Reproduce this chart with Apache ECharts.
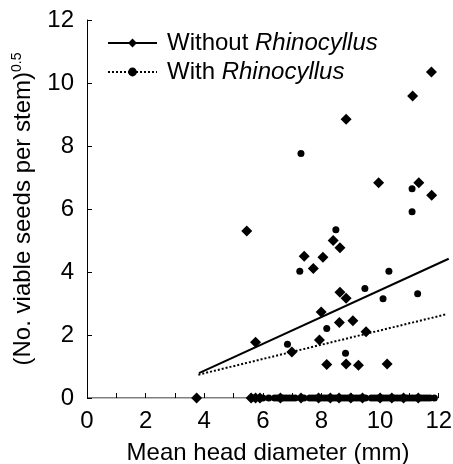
<!DOCTYPE html>
<html><head><meta charset="utf-8">
<script src="https://cdn.jsdelivr.net/npm/echarts@6/dist/echarts.min.js"></script>
<style>html,body{margin:0;padding:0;background:#fff}#c{width:453px;height:464px}</style>
</head><body><div id="c"></div>
<script>
// Without Rhinocyllus (diamonds), [head diameter, sqrt seeds]
const withoutPts = [
  [3.74,0],[5.45,5.30],[5.75,1.77],[6.99,1.46],[7.41,4.50],[7.72,4.11],[8.05,4.47],
  [7.99,2.73],[7.93,1.84],[8.18,1.06],[8.40,5.00],[8.63,4.77],[8.63,3.36],[8.84,3.17],
  [8.61,2.40],[9.07,2.45],[8.84,1.08],[9.26,1.04],[9.52,2.10],[8.84,8.85],[9.95,6.83],
  [10.24,1.08],[11.11,9.59],[11.32,6.83],[11.76,6.44],[11.75,10.35]
];
const withoutZeroX = [5.6,5.75,5.9,6.6,7.3,7.9,8.3,8.6,9.0,9.4,10.0,10.4,10.8,11.3];
// With Rhinocyllus (circles)
const withPts = [
  [7.30,7.76],[7.26,4.02],[6.84,1.71],[8.18,2.21],[8.49,5.34],[8.82,1.42],[9.48,3.48],
  [10.10,3.15],[10.30,4.02],[11.09,6.64],[11.09,5.91],[11.28,3.31]
];
const withZeroX = [5.7,6.0,6.2,6.4,6.5,6.7,6.8,6.9,7.0,7.1,7.4,7.6,7.7,7.8,8.0,8.1,8.2,8.4,8.5,
  8.7,8.8,8.9,9.1,9.2,9.3,9.5,9.7,9.8,9.9,10.1,10.2,10.3,10.5,10.6,10.7,10.9,11.0,11.1,11.2,11.4,11.5,11.6,11.7,11.85];
// Regression line endpoints
const withoutFit = [[3.82,0.79],[12.34,4.42]];
const withFit = [[3.80,0.74],[12.27,2.66]];
const xTicks = [0,2,4,6,8,10,12];
const xMinorTicks = [0,1,2,3,4,5,6,7,8,9,10,11,12];
const yTicks = [0,2,4,6,8,10,12];
const xAxisRange = [0, 12];   // visible extent of the x axis line
const xView = [0, 12.35];     // plotted extent (fit lines run slightly past 12)

const F = 'Liberation Sans, Arial, sans-serif';
const FS = 24;
const chart = echarts.init(document.getElementById('c'));
const withoutAll = withoutPts.concat(withoutZeroX.map(x => [x, 0]));
const withAll = withPts.concat(withZeroX.map(x => [x, 0]));
chart.setOption({
  animation: false,
  backgroundColor: '#fff',
  grid: {left: 87, right: 4, top: 20, bottom: 66, containLabel: false, outerBoundsMode: 'none'},
  legend: {
    orient: 'vertical', left: 107, top: 31, padding: 0, itemGap: 5,
    itemWidth: 49, itemHeight: 11,
    data: ['Without', 'With'],
    formatter: n => n === 'Without' ? '{a|Without }{b|Rhinocyllus}' : '{a|With }{b|Rhinocyllus}',
    textStyle: {color: '#000', fontFamily: F, fontSize: FS, padding: [0,0,0,5],
      rich: {a: {fontFamily: F, fontSize: FS, color: '#000'},
             b: {fontFamily: F, fontSize: FS, color: '#000', fontStyle: 'italic'}}}
  },
  xAxis: {
    type: 'value', min: xView[0], max: xView[1],
    name: 'Mean head diameter (mm)', nameLocation: 'middle', nameGap: 43,
    nameTextStyle: {fontFamily: F, fontSize: FS, color: '#000'},
    axisLine: {show: false},
    axisTick: {show: true, inside: true, length: 5, customValues: xMinorTicks, lineStyle: {color: '#000'}},
    axisLabel: {fontFamily: F, fontSize: FS, color: '#000', margin: 11, customValues: xTicks,
      formatter: v => xTicks.includes(v) ? String(v) : ''},
    splitLine: {show: false}
  },
  yAxis: {
    type: 'value', min: 0, max: 12, interval: 2,
    name: '{m|(No. viable seeds per stem)}{s|0.5}', nameLocation: 'middle', nameGap: 51,
    nameTextStyle: {fontFamily: F, fontSize: FS, color: '#000',
      rich: {m: {fontFamily: F, fontSize: FS, color: '#000'},
             s: {fontFamily: F, fontSize: 14, color: '#000', verticalAlign: 'top', padding: [0,0,12,0]}}},
    axisLine: {show: true, lineStyle: {color: '#000', width: 1}},
    axisTick: {show: true, inside: true, length: 5, lineStyle: {color: '#000'}},
    axisLabel: {fontFamily: F, fontSize: FS, color: '#000', margin: 13,
      formatter: v => yTicks.includes(v) ? String(v) : ''},
    splitLine: {show: false}
  },
  series: [
    {name: 'axis', type: 'line', data: xAxisRange.map(x => [x, 0]), symbol: 'none',
     lineStyle: {color: '#000', width: 1}, silent: true, z: 2},
    {name: 'Without', type: 'line', data: withoutFit, symbol: 'diamond', symbolSize: 10,
     showSymbol: false, clip: false, lineStyle: {color: '#000', width: 2, type: 'solid'},
     itemStyle: {color: '#000'}, silent: true, z: 3},
    {name: 'With', type: 'line', data: withFit, symbol: 'circle', symbolSize: 7,
     showSymbol: false, clip: false, lineStyle: {color: '#000', width: 2, type: 'dotted'},
     itemStyle: {color: '#000'}, silent: true, z: 3},
    {name: 'Without', type: 'scatter', data: withoutAll, symbol: 'diamond', symbolSize: 11,
     itemStyle: {color: '#000', opacity: 1}, clip: false, z: 4},
    {name: 'With', type: 'scatter', data: withAll, symbol: 'circle', symbolSize: 7,
     itemStyle: {color: '#000', opacity: 1}, clip: false, z: 4}
  ]
});
</script></body></html>
